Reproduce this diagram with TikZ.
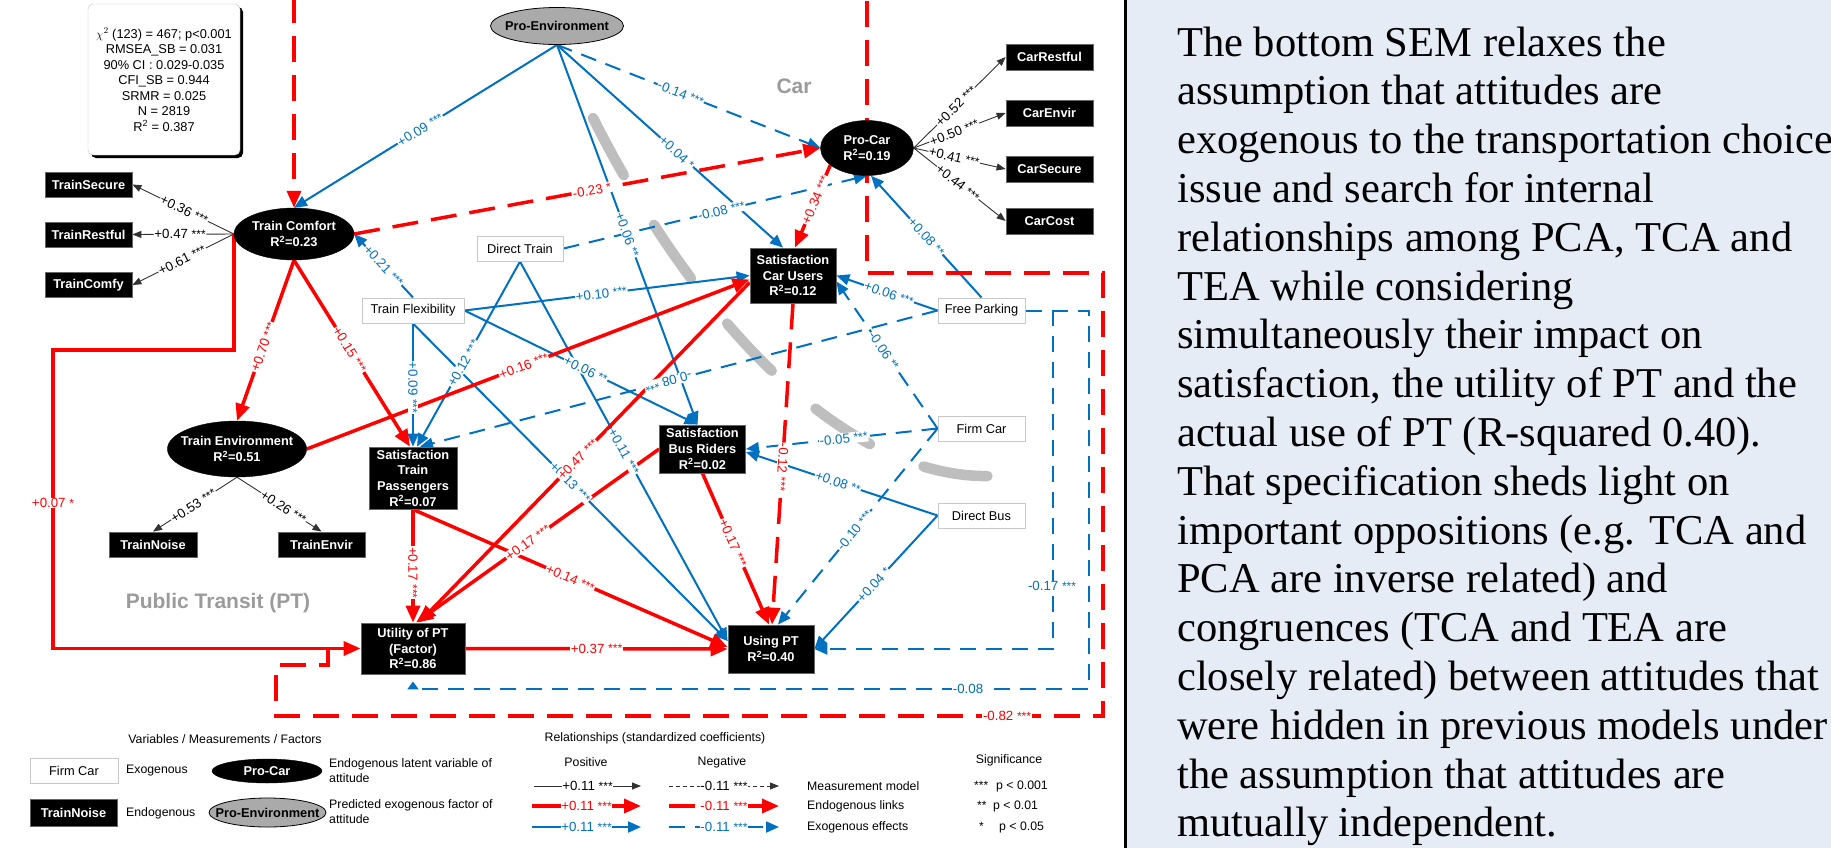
\documentclass[tikz,border=0pt]{standalone}
\usepackage{fontspec}
\setmainfont{Liberation Sans}
\newfontfamily\tnr{Liberation Serif}
\usetikzlibrary{arrows.meta,shapes.geometric,calc,shadows}
\definecolor{cred}{RGB}{255,0,0}
\definecolor{cblue}{RGB}{0,112,192}
\definecolor{cmeas}{RGB}{50,50,50}
\definecolor{carc}{RGB}{190,190,190}
\definecolor{cgtxt}{RGB}{155,155,155}
\definecolor{cpenv}{RGB}{170,170,170}
\definecolor{cexob}{RGB}{200,200,200}
\definecolor{cpanel}{RGB}{230,236,246}
\pgfdeclarelayer{back}\pgfdeclarelayer{edges}\pgfdeclarelayer{labs}
\pgfsetlayers{back,edges,labs,main}
\newcommand\st[1]{\raisebox{0.5pt}{\fontsize{12}{12}\selectfont#1}}
\newcommand\Rsq{R\textsuperscript{2}}
\newcommand\E[6]{%
  \begin{pgfonlayer}{edges}\draw[#1] (#2) -- (#3);\end{pgfonlayer}%
  \begin{pgfonlayer}{labs}\path (#2) -- (#3) node[pos=#4,#5]{#6};\end{pgfonlayer}}
\newcommand\PL[2]{\node[ptext] (pl#1) at (1177,{56+48.8*(#1-1)}) {#2};}
\tikzset{
  nfont/.style={font=\fontsize{12.8}{15.7}\selectfont\bfseries},
  endo/.style={rectangle, fill=black, draw=black!60, text=white, nfont, align=center, inner sep=0pt, line width=0.8pt},
  exo/.style={rectangle, fill=white, draw=cexob, text=black, font=\fontsize{12.8}{15}\selectfont, inner sep=0pt, line width=1pt, minimum height=25},
  lat/.style={ellipse, fill=black, draw=black, text=white, nfont, align=center, inner sep=0pt},
  pen/.style={ellipse, fill=cpenv, draw=black, text=black, nfont, inner sep=0pt, line width=0.8pt},
  meas/.style={draw=cmeas, line width=0.9pt, -{Triangle[length=9pt,width=7pt]}},
  mneg/.style={meas, dash pattern=on 4pt off 3pt},
  bpos/.style={draw=cblue, line width=2pt, -{Triangle[length=13pt,width=11pt]}},
  bneg/.style={bpos, dash pattern=on 16pt off 10pt},
  rpos/.style={draw=cred, line width=3.5pt, -{Triangle[length=17pt,width=14pt]}},
  rneg/.style={rpos, dash pattern=on 26pt off 13pt},
  lab/.style={sloped, fill=white, inner sep=0.7pt, font=\fontsize{13.3}{14}\selectfont},
  blab/.style={lab, text=cblue},
  rlab/.style={lab, text=cred},
  mlab/.style={lab, text=black},
  lgd/.style={font=\fontsize{12.3}{15}\selectfont, inner sep=0pt},
  ptext/.style={anchor=base west, inner sep=0pt, font=\tnr\fontsize{42.5}{48.8}\selectfont},
  grey/.style={font=\fontsize{21}{21}\selectfont\bfseries, text=cgtxt},
  stats/.style={rectangle, rounded corners=5pt, draw=black!25, fill=white, minimum width=152, minimum height=151, align=center, font=\fontsize{12.8}{15.5}\selectfont, drop shadow={shadow xshift=3pt, shadow yshift=-3pt, fill=black, opacity=1}},
}
\begin{document}
\begin{tikzpicture}[x=1pt,y=-1pt]
\useasboundingbox (0,0) rectangle (1831,847);
% ---------- right panel ----------
\begin{pgfonlayer}{back}
\fill[cpanel] (1125,-5) rectangle (1840,855);
\draw[line width=3pt] (1125,-5) -- (1125,855);
\draw[carc, line width=10.5pt, line cap=round, dash pattern=on 65pt off 58pt] (593,118) .. controls (700,330) and (850,480) .. (992,476);
\end{pgfonlayer}
\PL{1}{The bottom SEM relaxes the}
\PL{2}{assumption that attitudes are}
\PL{3}{exogenous to the transportation choice}
\PL{4}{issue and search for internal}
\PL{5}{relationships among PCA, TCA and}
\PL{6}{TEA while considering}
\PL{7}{simultaneously their impact on}
\PL{8}{satisfaction, the utility of PT and the}
\PL{9}{actual use of PT (R-squared 0.40).}
\PL{10}{That specification sheds light on}
\PL{11}{important oppositions (e.g. TCA and}
\PL{12}{PCA are inverse related) and}
\PL{13}{congruences (TCA and TEA are}
\PL{14}{closely related) between attitudes that}
\PL{15}{were hidden in previous models under}
\PL{16}{the assumption that attitudes are}
\PL{17}{mutually independent.}
% ---------- nodes ----------
\node[stats] (stats) at (164,79.5) {$\chi^{2}$ (123) = 467; p<0.001\\RMSEA\_SB = 0.031\\90\% CI : 0.029-0.035\\CFI\_SB = 0.944\\SRMR = 0.025\\N = 2819\\\Rsq{} = 0.387};
\node[endo, minimum width=87, minimum height=25] (TrainSecure) at (88.5,184.5) {TrainSecure};
\node[endo, minimum width=87, minimum height=25] (TrainRestful) at (88.5,234.5) {TrainRestful};
\node[endo, minimum width=87, minimum height=25] (TrainComfy) at (88.5,285) {TrainComfy};
\node[lat, minimum width=120, minimum height=52, inner xsep=-1pt] (TC) at (294,234) {Train Comfort\\\Rsq=0.23};
\node[pen, minimum width=133, minimum height=37, inner xsep=-8pt] (ProEnv) at (557,26) {Pro-Environment};
\node[lat, minimum width=93, minimum height=55] (ProCar) at (867,148) {Pro-Car\\\Rsq=0.19};
\node[endo, minimum width=87, minimum height=26] (CarRestful) at (1049.5,57) {CarRestful};
\node[endo, minimum width=87, minimum height=26] (CarEnvir) at (1049.5,113) {CarEnvir};
\node[endo, minimum width=87, minimum height=26] (CarSecure) at (1049.5,169) {CarSecure};
\node[endo, minimum width=87, minimum height=26] (CarCost) at (1049.5,221) {CarCost};
\node[exo, minimum width=86] (DT) at (520,248.5) {Direct Train};
\node[exo, minimum width=102] (TF) at (413,310.5) {Train Flexibility};
\node[endo, minimum width=86, minimum height=55] (SCU) at (793,275.5) {Satisfaction\\Car Users\\\Rsq=0.12};
\node[exo, minimum width=87] (FP) at (981.5,310.5) {Free Parking};
\node[exo, minimum width=87] (FirmCar) at (981.5,428.5) {Firm Car};
\node[exo, minimum width=87] (DB) at (981.5,515.5) {Direct Bus};
\node[lat, minimum width=136, minimum height=56, inner xsep=-7pt] (TE) at (237,449) {Train Environment\\\Rsq=0.51};
\node[endo, minimum width=88, minimum height=25] (TrainNoise) at (153,544.5) {TrainNoise};
\node[endo, minimum width=87, minimum height=25] (TrainEnvir) at (321.5,544.5) {TrainEnvir};
\node[endo, minimum width=88, minimum height=62] (STP) at (413,478) {Satisfaction\\Train\\Passengers\\\Rsq=0.07};
\node[endo, minimum width=86, minimum height=48] (SBR) at (702.5,449) {Satisfaction\\Bus Riders\\\Rsq=0.02};
\node[endo, minimum width=104, minimum height=51] (Utility) at (413,648.5) {Utility of PT\\(Factor)\\\Rsq=0.86};
\node[endo, minimum width=86, minimum height=48] (UsingPT) at (771,649) {Using PT\\\Rsq=0.40};
\node[grey] (carlbl) at (794,86) {Car};
\node[grey] (ptlbl) at (218,603) {Public Transit (PT)};
% ---------- measurement model ----------
\E{meas}{TC.west}{TrainSecure.east}{0.49}{mlab}{+0.36 \st{***}}
\E{meas}{TC.west}{TrainRestful.east}{0.53}{mlab}{+0.47 \st{***}}
\E{meas}{TC.west}{TrainComfy.east}{0.51}{mlab}{+0.61 \st{***}}
\E{meas}{TE.south}{TrainNoise.north}{0.52}{mlab}{+0.53 \st{***}}
\E{meas}{TE.south}{TrainEnvir.north}{0.55}{mlab}{+0.26 \st{***}}
\E{meas}{ProCar.east}{CarRestful.west}{0.46}{mlab}{+0.52 \st{***}}
\E{meas}{ProCar.east}{CarEnvir.west}{0.44}{mlab}{+0.50 \st{***}}
\E{meas}{ProCar.east}{CarSecure.west}{0.44}{mlab}{+0.41 \st{***}}
\E{meas}{ProCar.east}{CarCost.west}{0.48}{mlab}{+0.44 \st{***}}
% ---------- exogenous effects ----------
\E{bpos}{ProEnv.south}{TC.north}{0.52}{blab}{+0.09 \st{***}}
\E{bneg}{ProEnv.south}{ProCar.west}{0.47}{blab}{-0.14 \st{***}}
\E{bpos}{ProEnv.south}{$(SCU.north)+(-10,0)$}{0.53}{blab}{+0.04 \st{*}}
\E{bpos}{ProEnv.south}{$(SBR.north)+(-5,0)$}{0.5}{blab}{+0.06 \st{**}}
\E{bneg}{DT.east}{ProCar.south}{0.52}{blab}{-0.08 \st{***}}
\E{bpos}{DT.south}{$(STP.north)+(4,0)$}{0.55}{blab}{+0.12 \st{***}}
\E{bpos}{DT.south}{$(UsingPT.west)+(0,-8)$}{0.5}{blab}{+0.11 \st{***}}
\E{bpos}{TF.north}{TC.east}{0.5}{blab}{+0.21 \st{***}}
\E{bpos}{TF.east}{SCU.west}{0.48}{blab}{+0.10 \st{***}}
\E{bpos}{TF.south}{STP.north}{0.52}{blab}{+0.09 \st{***}}
\E{bpos}{TF.east}{$(SBR.north)+(-5,0)$}{0.52}{blab}{+0.06 \st{**}}
\E{bpos}{TF.south}{$(UsingPT.west)+(0,-8)$}{0.5}{blab}{+0.13 \st{***}}
\E{bpos}{FP.north}{$(ProCar.south)+(4,0)$}{0.5}{blab}{+0.08 \st{**}}
\E{bpos}{FP.west}{SCU.east}{0.48}{blab}{+0.06 \st{***}}
\E{bneg}{FP.west}{$(STP.north)+(7,0)$}{0.52}{blab,allow upside down}{-0.08 \st{***}}
\E{bneg}{FirmCar.west}{$(SCU.east)+(0,6)$}{0.53}{blab}{-0.06 \st{**}}
\E{bneg}{FirmCar.west}{SBR.east}{0.49}{blab}{-0.05 \st{***}}
\E{bneg}{FirmCar.west}{$(UsingPT.north)+(7,0)$}{0.52}{blab}{-0.10 \st{***}}
\E{bpos}{DB.west}{$(SBR.east)+(0,3)$}{0.52}{blab}{+0.08 \st{**}}
\E{bpos}{DB.west}{UsingPT.east}{0.52}{blab}{+0.04 \st{*}}
\begin{pgfonlayer}{edges}
\draw[bneg] (FP.east) -- ++(27,0) |- (UsingPT.east);
\draw[bneg, -{Triangle[length=8pt,width=11pt]}] (FP.east) -- ++(63,0) |- ($(Utility.south)+(0,15)$) -- ($(Utility.south)+(0,7)$);
\end{pgfonlayer}
\begin{pgfonlayer}{labs}
\node[blab] (l017) at (1052,586) {-0.17 \st{***}};
\node[blab] (l008) at (968,689) {-0.08};
\end{pgfonlayer}
% ---------- endogenous links ----------
\E{rpos}{TC.south}{TE.north}{0.54}{rlab}{+0.70 \st{***}}
\E{rpos}{TC.south}{$(STP.north)+(-3,0)$}{0.48}{rlab}{+0.15 \st{***}}
\E{rneg}{TC.east}{ProCar.west}{0.51}{rlab}{-0.23 \st{*}}
\E{rpos}{TE.east}{$(SCU.west)+(0,4)$}{0.49}{rlab}{+0.16 \st{***}}
\E{rpos}{ProCar.205}{$(SCU.north)+(2,0)$}{0.42}{rlab}{+0.34 \st{***}}
\E{rpos}{$(SCU.west)+(0,7)$}{$(Utility.north)+(6,0)$}{0.52}{rlab}{+0.47 \st{***}}
\E{rpos}{SBR.west}{$(Utility.north)+(3,0)$}{0.54}{rlab}{+0.17 \st{***}}
\E{rpos}{STP.south}{Utility.north}{0.56}{rlab}{+0.17 \st{***}}
\E{rpos}{STP.south}{$(UsingPT.west)+(0,-2)$}{0.5}{rlab}{+0.14 \st{***}}
\E{rpos}{Utility.east}{UsingPT.west}{0.5}{rlab}{+0.37 \st{***}}
\E{rpos}{SBR.south}{$(UsingPT.north)+(-2,0)$}{0.46}{rlab}{+0.17 \st{***}}
\E{rneg}{SCU.south}{$(UsingPT.north)+(1,0)$}{0.51}{rlab,allow upside down}{-0.12 \st{***}}
\coordinate (j82) at (328,648.5);
\coordinate (topTC) at (294,-3);
\begin{pgfonlayer}{edges}
\draw[rpos] (TC.west) -- ++(0,116) -- ++(-181,0) |- (Utility.west);
\draw[rneg, -] (j82) -- ++(0,16.5) -- ++(-52,0) -- ++(0,51) -- ++(827,0) -- ++(0,-443) -- ++(-236,0) -- ++(0,-280);
\draw[rneg] (topTC) -- (TC.north);
\end{pgfonlayer}
\begin{pgfonlayer}{labs}
\node[rlab] (l007) at (53,503) {+0.07 \st{*}};
\node[rlab] (l082) at (1007,716) {-0.82 \st{***}};
\end{pgfonlayer}
% ---------- legend ----------
\node[lgd] (lh1) at (225,739) {Variables / Measurements / Factors};
\node[lgd] (lh2) at (655,738) {Relationships (standardized coefficients)};
\node[lgd] (lh3) at (586,762) {Positive};
\node[lgd] (lh4) at (722,762) {Negative};
\node[lgd] (lh5) at (1009,760) {Significance};
\node[exo, minimum width=88] (lFirm) at (74,770.5) {Firm Car};
\node[lgd, anchor=west] (lExo) at (126,771) {Exogenous};
\node[lat, minimum width=110, minimum height=24] (lProCar) at (267,771) {Pro-Car};
\node[lgd, anchor=west, align=left] (lEndoLat) at (329,770.5) {Endogenous latent variable of\\attitude};
\node[endo, minimum width=87, minimum height=27] (lTN) at (73.5,812.5) {TrainNoise};
\node[lgd, anchor=west] (lEndo) at (126,813) {Endogenous};
\node[pen, minimum width=117, minimum height=29, inner xsep=-13pt] (lPE) at (267.5,812.5) {Pro-Environment};
\node[lgd, anchor=west, align=left] (lPred) at (329,811.5) {Predicted exogenous factor of\\attitude};
\coordinate (a1) at (534,786); \coordinate (b1) at (641,786);
\coordinate (c1) at (669,786); \coordinate (d1) at (779,786);
\coordinate (a2) at (532,806); \coordinate (b2) at (641,806);
\coordinate (c2) at (669,806); \coordinate (d2) at (779,806);
\coordinate (a3) at (532,827); \coordinate (b3) at (641,827);
\coordinate (c3) at (669,827); \coordinate (d3) at (779,827);
\E{meas}{a1}{b1}{0.5}{mlab}{+0.11 \st{***}}
\E{mneg}{c1}{d1}{0.5}{mlab}{-0.11 \st{***}}
\E{rpos}{a2}{b2}{0.5}{rlab}{+0.11 \st{***}}
\E{rneg}{c2}{d2}{0.5}{rlab}{-0.11 \st{***}}
\E{bpos}{a3}{b3}{0.5}{blab}{+0.11 \st{***}}
\E{bneg}{c3}{d3}{0.5}{blab}{-0.11 \st{***}}
\node[lgd, anchor=west] (lmm) at (807,786) {Measurement model};
\node[lgd, anchor=west] (lel) at (807,806) {Endogenous links};
\node[lgd, anchor=west] (lee) at (807,827) {Exogenous effects};
\node[lgd, anchor=west] (ls1) at (974,786) {\st{***}};
\node[lgd, anchor=west] (ls2) at (977,806) {\st{**}};
\node[lgd, anchor=west] (ls3) at (979,827) {\st{*}};
\node[lgd, anchor=west] (lp1) at (996,786) {p < 0.001};
\node[lgd, anchor=west] (lp2) at (993,806) {p < 0.01};
\node[lgd, anchor=west] (lp3) at (999,827) {p < 0.05};
\end{tikzpicture}
\end{document}
